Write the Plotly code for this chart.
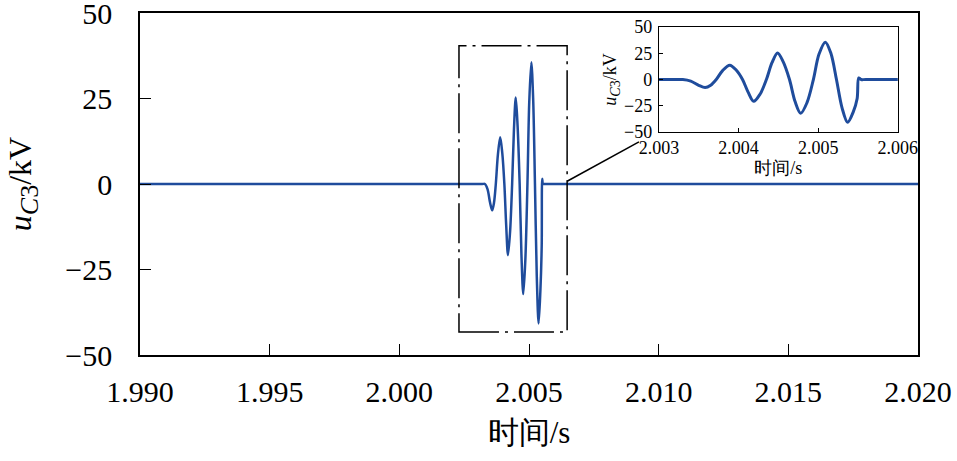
import plotly.graph_objects as go

# ---- data ----
time_s = [1.990, 2.00320, 2.00330, 2.00340, 2.00350, 2.00358, 2.00365, 2.00372, 2.00380, 2.00389,
          2.00397, 2.00405, 2.00412, 2.00419, 2.00427, 2.00435, 2.00442, 2.00449, 2.00456,
          2.00464, 2.00471, 2.00478, 2.00486, 2.00494, 2.00501, 2.00509, 2.00516, 2.00523,
          2.00530, 2.00537, 2.00544, 2.00549, 2.00551, 2.00554, 2.00560, 2.020]
u_c3_kv = [0, 0, 0, -1.5, -5.5, -7.7, -5.5, 0, 8.5, 13.7,
           9, 0, -12, -20.8, -14, 0, 16, 25.3, 17,
           0, -21, -32.2, -22, 0, 24, 35.6, 25, 0,
           -27, -40.8, -31, -18, 1.5, 0, 0, 0]

main_xticks = [1.990, 1.995, 2.000, 2.005, 2.010, 2.015, 2.020]
main_yticks = [-50, -25, 0, 25, 50]
inset_xticks = [2.003, 2.004, 2.005, 2.006]
inset_yticks = [-50, -25, 0, 25, 50]

zoom_box_t = [2.0023, 2.00647]
zoom_box_u = [-43.3, 40.4]
connector_t = [2.00647, 2.00924]
connector_u = [0.8, 12.3]

BLUE = "#1F4C9C"
FONT = "Liberation Serif, Times New Roman, serif"

fig = go.Figure()
fig.add_trace(go.Scatter(x=time_s, y=u_c3_kv, mode="lines",
                         line=dict(color=BLUE, width=2.5, shape="spline", smoothing=0.9),
                         xaxis="x", yaxis="y", showlegend=False, hoverinfo="skip"))
fig.add_trace(go.Scatter(x=time_s, y=u_c3_kv, mode="lines",
                         line=dict(color=BLUE, width=3, shape="spline", smoothing=0.9),
                         xaxis="x2", yaxis="y2", showlegend=False, hoverinfo="skip"))

# zoom rectangle and connector
fig.add_shape(type="rect", xref="x", yref="y",
              x0=zoom_box_t[0], x1=zoom_box_t[1], y0=zoom_box_u[0], y1=zoom_box_u[1],
              line=dict(color="black", width=1.5, dash="40px,6px,3px,6px"))
fig.add_shape(type="line", xref="x", yref="y",
              x0=connector_t[0], x1=connector_t[1], y0=connector_u[0], y1=connector_u[1],
              line=dict(color="black", width=1.5))

axis_common = dict(showgrid=False, zeroline=False, showline=True, linecolor="black",
                   mirror=True, ticks="inside", tickcolor="black", automargin=False,
                   ticklabeloverflow="allow")

ylabel_main = "<i>u</i><sub><span style='font-size:26px'><i>C</i>3</span></sub>/kV"
ylabel_inset = "<i>u</i><sub><span style='font-size:14px'><i>C</i>3</span></sub>/kV"

fig.update_layout(
    width=957, height=461,
    margin=dict(l=140, r=39, t=13, b=106),
    paper_bgcolor="white", plot_bgcolor="white",
    font=dict(family=FONT, color="black"),
    xaxis=dict(**axis_common, range=[1.990, 2.020], tickvals=main_xticks,
               tickformat=".3f", ticklen=11, linewidth=1.5, tickwidth=1.2,
               tickfont=dict(size=30), ticklabelstandoff=9,
               title=dict(text="时间/s", font=dict(size=31), standoff=15)),
    yaxis=dict(**axis_common, range=[-50, 50], tickvals=main_yticks,
               ticklen=11, linewidth=1.5, tickwidth=1.2,
               tickfont=dict(size=30), ticklabelstandoff=20,
               title=dict(text=ylabel_main, font=dict(size=32), standoff=24)),
    xaxis2=dict(**axis_common, domain=[0.667, 0.974], anchor="y2", range=[2.003, 2.006],
                tickvals=inset_xticks, tickformat=".3f", ticklen=4, linewidth=1.3,
                tickfont=dict(size=18), ticklabelstandoff=-1,
                title=dict(text="时间/s", font=dict(size=18), standoff=0)),
    yaxis2=dict(**axis_common, domain=[0.652, 0.959], anchor="x2", range=[-50, 50],
                tickvals=inset_yticks, ticklen=4, linewidth=1.3,
                tickfont=dict(size=18), ticklabelstandoff=2,
                title=dict(text=ylabel_inset, font=dict(size=18), standoff=2)),
)

fig.write_html("out.html")
